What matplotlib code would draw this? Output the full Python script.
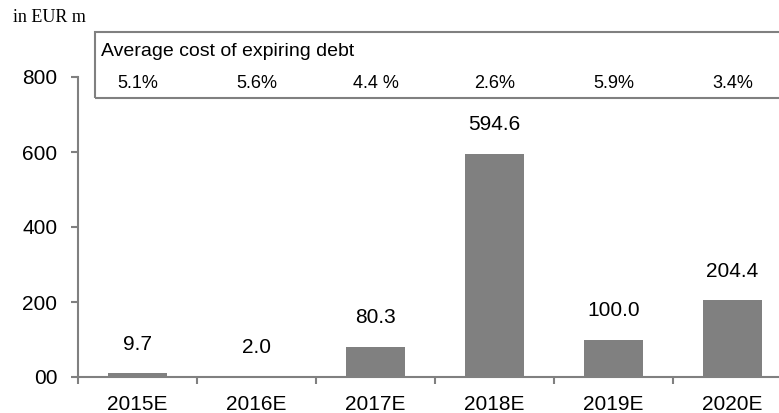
import matplotlib.pyplot as plt
import matplotlib.transforms as mtransforms
from matplotlib.patches import Rectangle
import numpy as np

years = ["2015E", "2016E", "2017E", "2018E", "2019E", "2020E"]
maturities = [9.7, 2.0, 80.3, 594.6, 100.0, 204.4]
value_labels = ["9.7", "2.0", "80.3", "594.6", "100.0", "204.4"]
avg_cost = ["5.1%", "5.6%", "4.4 %", "2.6%", "5.9%", "3.4%"]
ytick_vals = [0, 200, 400, 600, 800]
ytick_text = ["00", "200", "400", "600", "800"]

grey = "#808080"
plt.rcParams["font.family"] = ["Liberation Sans", "DejaVu Sans"]

fig = plt.figure(figsize=(7.79, 4.13), dpi=100)
W, H = 779.0, 413.0
# axes run past the right edge of the figure, like the original export
ax = fig.add_axes([78 / W, 1 - 377 / H, 714 / W, 300 / H])

x = np.arange(len(years))
ax.bar(x, maturities, width=0.5, color=grey, zorder=2)
ax.set_xlim(-0.5, len(years) - 0.5)
ax.set_ylim(0, 800)

for spine in ["top", "right"]:
    ax.spines[spine].set_visible(False)
for spine in ["left", "bottom"]:
    ax.spines[spine].set_color(grey)
    ax.spines[spine].set_linewidth(1.5)

ax.set_xticks(x)
ax.set_xticklabels(years, fontsize=15)
ax.set_xticks(np.arange(len(years) + 1) - 0.5, minor=True)
ax.tick_params(axis="x", which="major", length=0, pad=13)
ax.tick_params(axis="x", which="minor", length=5, width=1.5, color=grey)
ax.set_yticks(ytick_vals)
ax.set_yticklabels(ytick_text, fontsize=15)
ax.tick_params(axis="y", length=5, width=1.5, color=grey, pad=10)

# value labels above the bars (offset in points)
for xi, v, lab in zip(x, maturities, value_labels):
    ax.annotate(lab, (xi, v), xytext=(0, 21), textcoords="offset points",
                ha="center", va="center", fontsize=15, clip_on=False)

# box with the average cost of expiring debt
fig.patches.append(Rectangle((95 / W, 1 - 98 / H), 700 / W, 66 / H,
                             transform=fig.transFigure, fill=False,
                             edgecolor=grey, linewidth=1.5))
fig.text(101 / W, 1 - 52 / H, "Average cost of expiring debt",
         fontsize=14, va="center", ha="left")
trans = mtransforms.blended_transform_factory(ax.transData, fig.transFigure)
for xi, c in zip(x, avg_cost):
    ax.text(xi, 1 - 84 / H, c, transform=trans, ha="center", va="center",
            fontsize=13, clip_on=False)

fig.text(13 / W, 1 - 18 / H, "in EUR m", family="Liberation Serif",
         fontsize=13, va="center", ha="left")

fig.savefig("out.png", dpi=100)
